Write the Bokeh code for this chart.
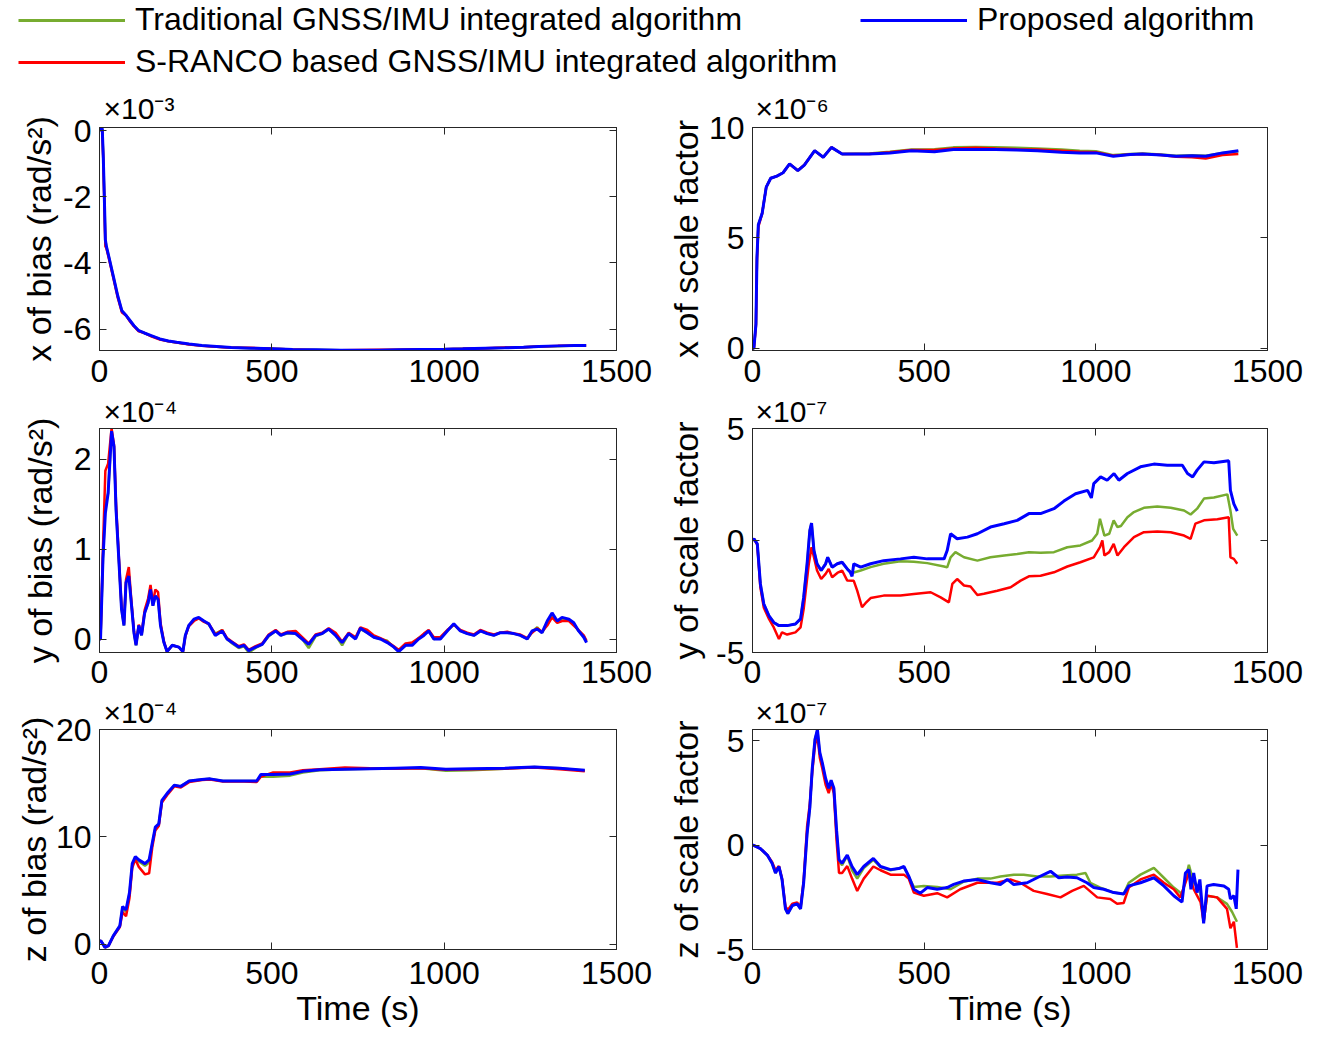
from bokeh.plotting import figure
from bokeh.models import Range1d, FixedTicker, LinearAxis, Legend, LegendItem, Label
from bokeh.layouts import column, row
from bokeh.embed import file_html
from bokeh.resources import INLINE

# ---------------- data ----------------
x_ticks = [0, 500, 1000, 1500]

# x of bias (x 1e-3 rad/s^2)
t_xbias = [0, 5, 8, 11, 14, 17, 20, 28, 40, 53, 65, 78, 89, 100, 114, 130, 150, 175, 200, 224,
           260, 297, 340, 382, 440, 504, 560, 627, 700, 810, 870, 932, 1000, 1054, 1120, 1176,
           1230, 1274, 1330, 1380, 1412]
xbias_prop = [0.0, 0.1, 0.05, -0.8, -2.0, -3.3, -3.5, -3.85, -4.4, -5.0, -5.45, -5.6, -5.75, -5.9,
              -6.05, -6.12, -6.2, -6.3, -6.36, -6.4, -6.45, -6.5, -6.53, -6.56, -6.58, -6.6, -6.62,
              -6.63, -6.64, -6.64, -6.63, -6.62, -6.61, -6.6, -6.58, -6.57, -6.55, -6.53, -6.51,
              -6.5, -6.5]
xbias_trad = [0.0, 0.1, 0.05, -0.8, -2.0, -3.3, -3.5, -3.85, -4.4, -5.0, -5.45, -5.6, -5.75, -5.9,
              -6.05, -6.12, -6.21, -6.3, -6.37, -6.41, -6.46, -6.5, -6.54, -6.56, -6.58, -6.6,
              -6.62, -6.63, -6.64, -6.64, -6.63, -6.62, -6.61, -6.6, -6.59, -6.57, -6.55, -6.53,
              -6.52, -6.5, -6.5]
xbias_sranco = [0.0, 0.1, 0.0, -0.9, -2.2, -3.5, -3.55, -3.9, -4.45, -5.05, -5.5, -5.6, -5.78,
                -5.92, -6.07, -6.12, -6.22, -6.32, -6.37, -6.41, -6.47, -6.51, -6.54, -6.57, -6.57,
                -6.6, -6.62, -6.64, -6.64, -6.63, -6.63, -6.61, -6.61, -6.6, -6.58, -6.56, -6.55,
                -6.53, -6.51, -6.51, -6.5]

# x of scale factor (x 1e-6)
t_xscale = [0, 4, 10, 13, 17, 28, 40, 53, 71, 89, 108, 132, 151, 181, 206, 230, 261, 340, 400,
            463, 530, 585, 650, 708, 770, 830, 900, 953, 1000, 1051, 1100, 1136, 1190, 1234, 1280,
            1320, 1369, 1415]
xscale_prop = [0.0, 0.0, 1.1, 4.1, 5.6, 6.1, 7.3, 7.7, 7.8, 7.95, 8.35, 8.05, 8.3, 8.95, 8.65,
               9.1, 8.8, 8.8, 8.85, 8.95, 8.9, 9.0, 9.0, 9.0, 8.98, 8.95, 8.88, 8.85, 8.85, 8.7,
               8.78, 8.8, 8.75, 8.7, 8.72, 8.7, 8.85, 8.95]
xscale_trad = [0.0, 0.0, 1.1, 4.1, 5.6, 6.1, 7.3, 7.7, 7.8, 7.95, 8.35, 8.05, 8.3, 8.95, 8.65,
               9.1, 8.8, 8.82, 8.9, 9.0, 9.02, 9.1, 9.12, 9.1, 9.08, 9.05, 9.0, 8.95, 8.92, 8.75,
               8.8, 8.82, 8.78, 8.72, 8.74, 8.72, 8.85, 8.92]
xscale_sranco = [0.0, 0.0, 1.0, 4.0, 5.5, 6.1, 7.3, 7.7, 7.8, 7.95, 8.35, 8.05, 8.3, 8.95, 8.65,
                 9.1, 8.8, 8.8, 8.88, 8.98, 8.98, 9.05, 9.08, 9.05, 9.02, 9.0, 8.95, 8.9, 8.88,
                 8.72, 8.78, 8.8, 8.75, 8.68, 8.65, 8.6, 8.75, 8.8]

# y of bias (x 1e-4 rad/s^2)
t_ybias = [0, 3, 10, 17, 25, 35, 42, 48, 56, 64, 71, 77, 85, 93, 100, 106, 114, 122, 131, 141,
           148, 155, 162, 170, 177, 187, 196, 211, 230, 242, 249, 259, 274, 288, 303, 317, 336,
           356, 370, 385, 404, 419, 433, 453, 472, 491, 511, 526, 545, 569, 588, 607, 627, 646,
           665, 685, 704, 723, 743, 757, 777, 796, 815, 835, 854, 868, 888, 907, 926, 941, 955,
           970, 989, 1009, 1028, 1047, 1067, 1086, 1105, 1125, 1144, 1163, 1183, 1202, 1221,
           1241, 1255, 1270, 1284, 1299, 1313, 1328, 1342, 1362, 1376, 1390, 1405, 1413]
ybias_prop = [0.0, 0.0, 0.89, 1.4, 1.62, 2.31, 2.14, 1.44, 0.89, 0.33,
              0.15, 0.63, 0.70, 0.37, 0.07, -0.07, 0.15, 0.04, 0.29, 0.40,
              0.55, 0.37, 0.48, 0.44, 0.15, -0.04, -0.14, -0.07, -0.09, -0.14,
              0.04, 0.15, 0.22, 0.24, 0.20, 0.17, 0.04, 0.09, 0.0, -0.04,
              -0.09, -0.07, -0.13, -0.09, -0.06, 0.04, 0.09, 0.04, 0.07, 0.06,
              0.0, -0.06, 0.04, 0.06, 0.11, 0.04, -0.04, 0.06, 0.0, 0.12,
              0.07, 0.02, 0.0, -0.04, -0.09, -0.14, -0.07, -0.07, 0.0, 0.04,
              0.09, 0.0, 0.0, 0.09, 0.17, 0.09, 0.06, 0.04, 0.09, 0.06,
              0.04, 0.07, 0.07, 0.06, 0.04, 0.0, 0.09, 0.11, 0.07, 0.2,
              0.29, 0.2, 0.24, 0.22, 0.18, 0.09, 0.02, -0.04]
ybias_trad = [0.0, 0.0, 0.89, 1.5, 1.62, 2.28, 2.14, 1.44, 0.89, 0.33,
              0.15, 0.63, 0.72, 0.37, 0.07, -0.07, 0.15, 0.04, 0.29, 0.40,
              0.55, 0.37, 0.48, 0.44, 0.15, -0.04, -0.14, -0.07, -0.09, -0.14,
              0.04, 0.15, 0.21, 0.23, 0.20, 0.16, 0.06, 0.1, 0.0, -0.05,
              -0.1, -0.08, -0.15, -0.1, -0.06, 0.03, 0.09, 0.04, 0.06, 0.06,
              0.0, -0.1, 0.03, 0.06, 0.11, 0.04, -0.07, 0.06, 0.01, 0.11,
              0.07, 0.02, 0.0, -0.02, -0.09, -0.13, -0.07, -0.06, 0.01, 0.05,
              0.09, 0.0, 0.01, 0.09, 0.16, 0.09, 0.06, 0.04, 0.09, 0.06,
              0.04, 0.07, 0.07, 0.06, 0.04, 0.0, 0.08, 0.13, 0.07, 0.17,
              0.27, 0.19, 0.22, 0.21, 0.17, 0.09, 0.03, -0.03]
ybias_sranco = [0.0, 0.0, 1.0, 1.87, 1.95, 2.34, 2.16, 1.5, 0.92, 0.36,
                0.17, 0.66, 0.80, 0.40, 0.09, -0.06, 0.16, 0.05, 0.32, 0.45,
                0.6, 0.4, 0.55, 0.52, 0.18, -0.03, -0.14, -0.07, -0.09, -0.14,
                0.03, 0.14, 0.2, 0.23, 0.19, 0.17, 0.05, 0.1, 0.01, -0.03,
                -0.08, -0.06, -0.12, -0.08, -0.05, 0.05, 0.1, 0.05, 0.08, 0.09,
                0.02, -0.05, 0.05, 0.07, 0.12, 0.07, -0.03, 0.07, 0.02, 0.13,
                0.1, 0.04, 0.01, -0.03, -0.08, -0.12, -0.05, -0.04, 0.01, 0.06,
                0.1, 0.02, 0.02, 0.1, 0.16, 0.1, 0.07, 0.05, 0.1, 0.07,
                0.05, 0.07, 0.08, 0.06, 0.05, 0.01, 0.07, 0.12, 0.08, 0.15,
                0.24, 0.18, 0.2, 0.2, 0.15, 0.1, 0.04, -0.02]

# y of scale factor (x 1e-7)
t_yscale_prop = [0, 4, 14, 23, 33, 48, 62, 77, 101, 125, 140, 149, 159, 167, 172, 179, 188, 200,
                 213, 219, 232, 247, 261, 276, 285, 290, 295, 315, 344, 382, 431, 470, 509, 558,
                 567, 577, 596, 626, 655, 693, 733, 771, 805, 839, 878, 907, 941, 976, 987, 994,
                 1014, 1033, 1053, 1067, 1092, 1130, 1169, 1208, 1252, 1267, 1282, 1295, 1315,
                 1344, 1387, 1392, 1402, 1412]
yscale_prop = [0.0, 0.08, -0.15, -1.94, -2.84, -3.36, -3.66, -3.8, -3.8, -3.73, -3.5, -2.54,
               -1.04, 0.45, 0.78, -0.45, -1.04, -1.34, -1.04, -0.75, -1.19, -1.04, -0.97, -1.27,
               -1.42, -1.6, -1.04, -1.19, -1.04, -0.9, -0.82, -0.75, -0.82, -0.82, -0.45, 0.3,
               0.08, 0.15, 0.3, 0.6, 0.75, 0.9, 1.2, 1.2, 1.42, 1.76, 2.09, 2.24, 1.9, 2.54, 2.84,
               2.69, 2.99, 2.69, 2.99, 3.29, 3.41, 3.36, 3.36, 2.99, 2.84, 3.14, 3.51, 3.47, 3.56,
               2.24, 1.64, 1.31]
t_yscale_trad = [0, 4, 14, 23, 33, 48, 62, 77, 101, 125, 140, 149, 159, 167, 172, 179, 188, 200,
                 213, 219, 232, 247, 261, 276, 290, 315, 344, 382, 431, 470, 509, 558, 567, 577,
                 591, 616, 655, 693, 733, 771, 805, 839, 878, 917, 955, 989, 1004, 1012, 1025,
                 1039, 1052, 1063, 1073, 1092, 1111, 1140, 1179, 1218, 1257, 1276, 1295, 1315,
                 1344, 1383, 1392, 1400, 1412]
yscale_trad = [0.0, 0.08, -0.15, -1.94, -2.84, -3.36, -3.66, -3.8, -3.8, -3.73, -3.5, -2.54,
               -1.04, 0.45, 0.78, -0.45, -1.04, -1.34, -1.04, -0.75, -1.19, -1.04, -0.97, -1.27,
               -1.45, -1.34, -1.19, -1.04, -0.93, -0.95, -1.01, -1.16, -1.2, -0.75, -0.52, -0.75,
               -0.9, -0.75, -0.67, -0.6, -0.52, -0.55, -0.52, -0.3, -0.22, 0.0, 0.3, 0.97, 0.22,
               0.3, 0.9, 0.6, 0.65, 1.04, 1.27, 1.46, 1.52, 1.46, 1.34, 1.16, 1.42, 1.87, 1.92,
               2.06, 1.34, 0.52, 0.22]
t_yscale_sranco = [0, 4, 14, 23, 33, 48, 62, 77, 86, 101, 125, 140, 149, 164, 172, 179, 188, 200,
                   213, 222, 232, 247, 261, 276, 295, 305, 319, 329, 344, 382, 431, 470, 519,
                   548, 572, 582, 596, 616, 635, 655, 674, 713, 752, 781, 805, 839, 878, 917,
                   955, 994, 1012, 1019, 1025, 1039, 1052, 1063, 1082, 1111, 1140, 1179, 1218,
                   1257, 1276, 1290, 1315, 1354, 1387, 1392, 1402, 1412]
yscale_sranco = [0.0, 0.08, -0.2, -2.1, -3.0, -3.5, -3.88, -4.4, -4.1, -4.2, -4.1, -3.88, -3.06,
                 -1.04, -0.3, -0.75, -1.34, -1.72, -1.49, -1.27, -1.64, -1.45, -1.34, -1.79, -1.8,
                 -2.24, -2.98, -2.8, -2.57, -2.46, -2.46, -2.39, -2.31, -2.54, -2.76, -1.94,
                 -1.72, -2.01, -2.05, -2.43, -2.38, -2.24, -2.09, -1.79, -1.6, -1.57, -1.42,
                 -1.16, -0.97, -0.75, -0.3, 0.0, -0.67, -0.52, -0.15, -0.67, -0.3, 0.15, 0.37,
                 0.4, 0.37, 0.22, 0.07, 0.75, 0.9, 0.95, 1.04, -0.75, -0.82, -1.04]

# z of bias (x 1e-4 rad/s^2)
t_zbias = [0, 4, 16, 26, 40, 59, 67, 77, 87, 95, 104, 114, 132, 144, 153, 162, 172, 181, 199,
           217, 236, 260, 297, 321, 358, 419, 456, 468, 504, 553, 590, 639, 712, 785, 859, 932,
           1005, 1079, 1176, 1262, 1335, 1408]
zbias_prop = [0.3, 0.3, -0.3, -0.15, 0.77, 1.7, 3.5, 3.2, 4.8, 7.5, 8.15, 7.85, 7.5, 7.85, 9.4,
              10.9, 11.2, 13.4, 14.15, 14.8, 14.7, 15.2, 15.35, 15.4, 15.2, 15.2, 15.2, 15.8,
              15.8, 15.85, 16.1, 16.25, 16.3, 16.35, 16.4, 16.45, 16.3, 16.35, 16.4, 16.5, 16.4,
              16.2]
zbias_trad = [0.3, 0.3, -0.3, -0.15, 0.77, 1.7, 3.4, 3.0, 4.7, 7.4, 8.1, 7.7, 7.3, 7.6, 9.3,
              10.8, 11.2, 13.3, 14.1, 14.8, 14.7, 15.2, 15.35, 15.4, 15.2, 15.2, 15.2, 15.6,
              15.6, 15.7, 16.0, 16.2, 16.3, 16.35, 16.4, 16.4, 16.15, 16.2, 16.35, 16.5, 16.4,
              16.15]
zbias_sranco = [0.3, 0.3, -0.3, -0.15, 0.7, 1.6, 3.0, 2.6, 4.3, 7.1, 7.9, 7.2, 6.5, 6.6, 9.0,
                10.6, 11.0, 13.2, 14.0, 14.7, 14.6, 15.1, 15.3, 15.35, 15.15, 15.15, 15.1, 15.6,
                16.0, 16.0, 16.2, 16.3, 16.45, 16.4, 16.35, 16.4, 16.25, 16.3, 16.35, 16.45,
                16.3, 16.1]

# z of scale factor (x 1e-7)
t_zscale_prop = [0, 2, 23, 43, 57, 67, 77, 86, 96, 103, 116, 130, 140, 149, 159, 167, 174, 182,
                 189, 196, 203, 213, 222, 229, 237, 245, 252, 261, 276, 290, 305, 324, 352, 373,
                 402, 426, 441, 455, 470, 489, 509, 538, 567, 586, 615, 655, 693, 722, 742, 761,
                 800, 829, 868, 892, 916, 945, 974, 994, 1023, 1052, 1081, 1096, 1130, 1169,
                 1198, 1227, 1251, 1261, 1271, 1277, 1285, 1295, 1303, 1314, 1324, 1343, 1373,
                 1387, 1392, 1402, 1409, 1414]
zscale_prop = [0.0, 0.0, -0.16, -0.47, -0.86, -1.33, -1.02, -1.64, -3.05, -3.28, -2.89, -2.81,
               -3.05, -1.8, 0.55, 1.8, 3.67, 5.08, 5.55, 4.45, 3.98, 3.2, 2.73, 3.12, 2.73, 0.7,
               -0.7, -0.86, -0.47, -1.02, -1.41, -1.02, -0.63, -1.02, -1.17, -1.12, -1.02, -1.48,
               -2.11, -2.3, -2.03, -2.11, -2.03, -1.88, -1.72, -1.64, -1.8, -1.88, -1.64, -1.88,
               -1.8, -1.56, -1.25, -1.56, -1.52, -1.56, -1.8, -2.03, -2.11, -2.27, -2.34, -1.95,
               -1.8, -1.56, -1.95, -2.42, -2.73, -1.33, -1.17, -2.11, -1.33, -2.27, -1.64, -3.75,
               -1.95, -1.88, -1.95, -2.11, -2.58, -2.42, -3.05, -1.17]
t_zscale_trad = [0, 2, 23, 43, 57, 67, 77, 86, 96, 103, 116, 130, 140, 149, 159, 167, 174, 182,
                 189, 196, 203, 213, 222, 229, 237, 245, 252, 261, 276, 290, 305, 324, 352, 373,
                 402, 441, 455, 470, 499, 538, 577, 615, 655, 693, 722, 761, 790, 829, 868, 906,
                 945, 970, 984, 1013, 1052, 1081, 1096, 1130, 1169, 1198, 1227, 1251, 1271, 1285,
                 1303, 1314, 1324, 1353, 1382, 1397, 1411]
zscale_trad = [0.0, 0.0, -0.16, -0.47, -0.86, -1.33, -1.02, -1.64, -3.05, -3.28, -2.89, -2.81,
               -3.05, -1.8, 0.55, 1.8, 3.67, 5.08, 5.5, 4.4, 3.9, 3.1, 2.65, 3.05, 2.7, 0.6, -0.8,
               -0.95, -0.5, -1.2, -1.6, -1.1, -0.7, -1.05, -1.2, -1.05, -1.5, -2.0, -1.95, -2.0,
               -2.11, -1.75, -1.6, -1.6, -1.5, -1.41, -1.41, -1.5, -1.5, -1.45, -1.41, -1.33,
               -1.8, -2.03, -2.27, -2.34, -1.8, -1.41, -1.09, -1.56, -2.03, -2.34, -0.94, -1.8,
               -2.11, -3.67, -2.42, -2.5, -2.81, -3.2, -3.67]
t_zscale_sranco = [0, 2, 23, 43, 57, 67, 77, 86, 96, 103, 116, 130, 140, 149, 159, 167, 174, 182,
                   189, 196, 203, 213, 222, 229, 237, 245, 252, 261, 276, 290, 305, 324, 352,
                   373, 402, 441, 455, 470, 499, 538, 567, 605, 655, 713, 751, 780, 819, 858,
                   897, 931, 965, 1004, 1042, 1062, 1081, 1096, 1130, 1169, 1198, 1227, 1246,
                   1271, 1285, 1305, 1314, 1324, 1353, 1382, 1392, 1402, 1411]
zscale_sranco = [0.0, 0.0, -0.16, -0.47, -0.8, -1.2, -1.0, -1.6, -2.95, -3.1, -2.8, -2.75, -2.95,
                 -1.7, 0.9, 2.0, 3.5, 4.8, 5.3, 4.2, 3.7, 2.9, 2.5, 2.95, 2.5, 0.2, -1.33, -1.33,
                 -1.0, -1.6, -2.19, -1.6, -1.02, -1.2, -1.41, -1.41, -1.6, -2.27, -2.42, -2.3,
                 -2.5, -2.11, -1.8, -1.8, -1.64, -1.8, -2.19, -2.34, -2.5, -2.19, -1.95, -2.5,
                 -2.58, -2.81, -2.77, -2.03, -1.64, -1.41, -1.8, -2.11, -2.5, -1.33, -2.11, -2.73,
                 -3.67, -2.42, -2.5, -3.05, -3.98, -3.67, -4.92]

series_names = ["Traditional GNSS/IMU integrated algorithm",
                "S-RANCO based GNSS/IMU integrated algorithm",
                "Proposed algorithm"]
multipliers = [["×10⁻³", "×10⁻⁶"], ["×10⁻⁴", "×10⁻⁷"], ["×10⁻⁴", "×10⁻⁷"]]

# ---------------- styling / layout ----------------
FONT = "Liberation Sans"
GREEN = "#77AC30"
RED = "#FF0000"
BLUE = "#0000FF"
AXC = "#262626"
LEG_H = 82
LABEL_SHIFT = 12   # renderer draws these labels this many px below the anchor
COLS = [dict(width=658, bl=99, br=42, mx=4), dict(width=659, bl=94, br=50, mx=3)]
ROWS = [dict(height=313, bt=45, bb=45, so=9, mlift=7),
        dict(height=301, bt=33, bb=44, so=8, mlift=5),
        dict(height=341, bt=33, bb=88, so=12, mlift=5)]


def style_axis(ax, so):
    ax.major_tick_in = 7
    ax.major_tick_out = 0
    ax.minor_tick_line_color = None
    ax.axis_line_color = AXC
    ax.major_tick_line_color = AXC
    ax.major_label_text_font = FONT
    ax.major_label_text_font_size = "32px"
    ax.major_label_text_color = "#000000"
    ax.major_label_standoff = so
    ax.axis_label_text_font = FONT
    ax.axis_label_text_font_size = "34px"
    ax.axis_label_text_font_style = "normal"
    ax.axis_label_text_color = "#000000"


def panel(ci, ri, yr, yticks, ylabel, lines, als, xlabel=None):
    c, r = COLS[ci], ROWS[ri]
    p = figure(width=c["width"], height=r["height"], x_range=Range1d(0, 1500),
               y_range=Range1d(yr[0], yr[1]), output_backend="svg", toolbar_location=None,
               min_border_left=c["bl"], min_border_right=c["br"],
               min_border_top=r["bt"], min_border_bottom=r["bb"])
    p.grid.visible = False
    p.outline_line_color = AXC
    p.outline_line_width = 1
    for (t, v, color, lw) in lines:
        p.line(t, v, line_color=color, line_width=lw)
    xa, ya = p.xaxis[0], p.yaxis[0]
    xa.ticker = FixedTicker(ticks=x_ticks)
    ya.ticker = FixedTicker(ticks=yticks)
    style_axis(xa, r["so"])
    style_axis(ya, 8)
    ya.major_label_overrides = {v: str(v) for v in yticks if v < 0}
    ya.axis_label = ylabel
    ya.axis_label_standoff = als
    if xlabel:
        xa.axis_label = xlabel
        xa.axis_label_standoff = 2
    for loc, tk in (("right", yticks), ("above", x_ticks)):
        ax = LinearAxis(ticker=FixedTicker(ticks=tk),
                        major_label_overrides={v: "" for v in tk})
        style_axis(ax, 0)
        ax.major_label_text_font_size = "1px"
        p.add_layout(ax, loc)
    # axis multiplier "x10^n" just above the top-left corner of the frame
    p.add_layout(Label(x=0, y=yr[1], x_offset=c["mx"], y_offset=r["mlift"] + LABEL_SHIFT,
                       text=multipliers[ri][ci], text_font=FONT, text_font_size="30px",
                       text_color="#000000", text_baseline="alphabetic"), "above")
    return p


p1 = panel(0, 0, (-6.65, 0.1), [-6, -4, -2, 0], "x of bias (rad/s²)",
           [(t_xbias, xbias_trad, GREEN, 2.5), (t_xbias, xbias_sranco, RED, 2.5),
            (t_xbias, xbias_prop, BLUE, 3)], als=2)
p2 = panel(1, 0, (-0.1, 10), [0, 5, 10], "x of scale factor",
           [(t_xscale, xscale_trad, GREEN, 2.5), (t_xscale, xscale_sranco, RED, 2.5),
            (t_xscale, xscale_prop, BLUE, 3)], als=1)
p3 = panel(0, 1, (-0.15, 2.34), [0, 1, 2], "y of bias (rad/s²)",
           [(t_ybias, ybias_trad, GREEN, 2.5), (t_ybias, ybias_sranco, RED, 2.5),
            (t_ybias, ybias_prop, BLUE, 3)], als=12)
p4 = panel(1, 1, (-5, 5), [-5, 0, 5], "y of scale factor",
           [(t_yscale_trad, yscale_trad, GREEN, 2.5), (t_yscale_sranco, yscale_sranco, RED, 2.5),
            (t_yscale_prop, yscale_prop, BLUE, 3)], als=8)
p5 = panel(0, 2, (-0.5, 20), [0, 10, 20], "z of bias (rad/s²)",
           [(t_zbias, zbias_trad, GREEN, 2.5), (t_zbias, zbias_sranco, RED, 2.5),
            (t_zbias, zbias_prop, BLUE, 3)], als=0, xlabel="Time (s)")
p6 = panel(1, 2, (-5, 5.55), [-5, 0, 5], "z of scale factor",
           [(t_zscale_trad, zscale_trad, GREEN, 2.5), (t_zscale_sranco, zscale_sranco, RED, 2.5),
            (t_zscale_prop, zscale_prop, BLUE, 3)], als=8, xlabel="Time (s)")

# ---------------- legend strip ----------------
NAN = float("nan")
lg = figure(width=1317, height=LEG_H, x_range=Range1d(0, 1317), y_range=Range1d(0, LEG_H),
            output_backend="svg", toolbar_location=None, min_border=0,
            x_axis_type=None, y_axis_type=None)
lg.grid.visible = False
lg.outline_line_color = None
r_trad = lg.line([NAN], [NAN], line_color=GREEN, line_width=3)
r_sranco = lg.line([NAN], [NAN], line_color=RED, line_width=3)
r_prop = lg.line([NAN], [NAN], line_color=BLUE, line_width=3)
for name, rend, loc in ((series_names[0], r_trad, (18, 44)),
                        (series_names[2], r_prop, (860, 44)),
                        (series_names[1], r_sranco, (18, 2))):
    leg = Legend(items=[LegendItem(label=name, renderers=[rend])], location=loc,
                 glyph_width=107, glyph_height=30, label_standoff=10, padding=0, margin=0,
                 spacing=0, border_line_color=None, background_fill_alpha=0,
                 label_text_font=FONT, label_text_font_size="32px", label_height=36,
                 label_text_color="#000000")
    lg.add_layout(leg)

root = column(lg, row(p1, p2), row(p3, p4), row(p5, p6))
open("out.html", "w").write(file_html(root, INLINE, title="GNSS/IMU bias and scale factor"))
